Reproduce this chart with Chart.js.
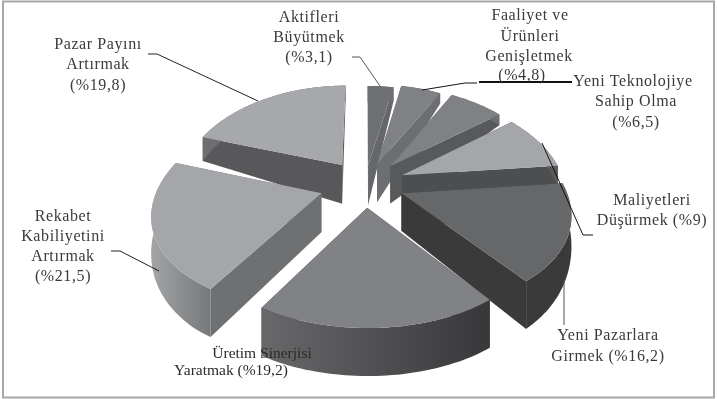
<!DOCTYPE html>
<html>
<head>
  <title>Pie</title>
  <script src="https://cdn.jsdelivr.net/npm/chart.js@4/dist/chart.umd.min.js"></script>
  <style>
    html, body { margin: 0; padding: 0; background: #fff; }
    canvas { display: block; }
  </style>
</head>
<body>
  <canvas id="pie" width="717" height="399"></canvas>

  <script>
    const categories = ['Aktifleri Büyütmek', 'Faaliyet ve Ürünleri Genişletmek', 'Yeni Teknolojiye Sahip Olma',
      'Maliyetleri Düşürmek', 'Yeni Pazarlara Girmek', 'Üretim Sinerjisi Yaratmak', 'Rekabet Kabiliyetini Artırmak',
      'Pazar Payını Artırmak'];
    const shares = [3.1, 4.8, 6.5, 9, 16.2, 19.2, 21.5, 19.8];

    // slice styling, same order as the categories
    const faceColors = ['#6f7073', '#808184', '#808184', '#a5a6a9', '#666769', '#808285', '#a5a6a9', '#a7a8ab'];
    const cutColors = ['#66676a', '#6d6e71', '#58595b', '#4d4e50', '#3a3a3b', '#3f3f40', '#6f7072', '#58585a'];
    const rimLeft = ['#6f7073', '#6d6e71', '#6d6e71', '#58595b', '#3a3a3b', '#68686a', '#a3a4a6', '#6d6e71'];
    const rimRight = ['#6f7073', '#6d6e71', '#6d6e71', '#58595b', '#3a3a3b', '#38383a', '#77787a', '#6d6e71'];
    const explode = [0.2, 0.23, 0.25, 0.25, 0.24, 0.24, 0.28, 0.25];

    // projection of the tilted disc onto the canvas
    const view = { cx: 365, cy: 184, focalX: 895, depthX: 5.5, focalY: 675, depthY: 7.05 };

    // wall height shrinks towards the back edge, more quickly on the right
    function rimHeight(x, y) {
      const t = Math.min(1, Math.max(0, (y + 0.9) / 0.9));
      const back = 40 - (x > 0 ? 16 : 8) * Math.abs(x) - 23 * Math.max(0, y - 0.2);
      return 48 + (back - 48) * t;
    }

    function project(angle, radius, shift, mid) {
      const x = radius * Math.cos(angle) + shift * Math.cos(mid);
      const y = -(radius * Math.sin(angle) + shift * Math.sin(mid));
      return {
        x: view.cx + view.focalX * x / (view.depthX + y),
        y: view.cy - view.focalY * y / (view.depthY + y),
        h: rimHeight(x, y)
      };
    }

    function polygon(ctx, pts, fill) {
      ctx.beginPath();
      pts.forEach((p, i) => (i ? ctx.lineTo(p.x, p.y) : ctx.moveTo(p.x, p.y)));
      ctx.closePath();
      ctx.fillStyle = fill;
      ctx.fill();
    }

    function dropped(pts) { return pts.map(p => ({ x: p.x, y: p.y + p.h })); }

    function drawSlice(ctx, arc, i) {
      const start = arc.startAngle, end = arc.endAngle, mid = (start + end) / 2, shift = explode[i];
      const apex = project(0, 0, shift, mid);
      const edge = [];
      const steps = Math.ceil((end - start) * 40);
      for (let s = 0; s <= steps; s++) edge.push(project(start + (end - start) * s / steps, 1, shift, mid));
      const first = edge[0], last = edge[edge.length - 1];

      polygon(ctx, [apex, first, ...dropped([first, apex])], cutColors[i]);
      polygon(ctx, [apex, last, ...dropped([last, apex])], cutColors[i]);

      const xs = edge.map(p => p.x);
      const grad = ctx.createLinearGradient(Math.min(...xs), 0, Math.max(...xs), 0);
      grad.addColorStop(0, rimLeft[i]);
      grad.addColorStop(1, rimRight[i]);
      polygon(ctx, [...edge, ...dropped(edge).reverse()], grad);

      polygon(ctx, [apex, ...edge], arc.options.backgroundColor);
    }

    const tiltedPie = {
      id: 'tiltedPie',
      beforeDatasetDraw(chart, args) {
        const ctx = chart.ctx;
        const arcs = args.meta.data;
        // paint from the back of the disc to the front
        const order = arcs.map((arc, i) => i).sort((a, b) =>
          Math.sin((arcs[a].startAngle + arcs[a].endAngle) / 2) - Math.sin((arcs[b].startAngle + arcs[b].endAngle) / 2));
        order.forEach(i => drawSlice(ctx, arcs[i], i));
        return false;
      }
    };

    // text and leader lines
    const labelRows = [
      ['Aktifleri', 309, 22], ['Büyütmek', 309, 42], ['(%3,1)', 309, 62],
      ['Faaliyet ve', 530, 20], ['Ürünleri', 530, 41], ['Genişletmek', 529, 61], ['(%4,8)', 522, 80],
      ['Yeni Teknolojiye', 633, 86], ['Sahip Olma', 636, 106], ['(%6,5)', 636, 127],
      ['Pazar Payını', 98, 49], ['Artırmak', 98, 69], ['(%19,8)', 98, 90],
      ['Rekabet', 63, 221], ['Kabiliyetini', 63, 241], ['Artırmak', 63, 261], ['(%21,5)', 63, 281],
      ['Maliyetleri', 652, 205], ['Düşürmek (%9)', 652, 225],
      ['Yeni Pazarlara', 608, 340], ['Girmek (%16,2)', 608, 361]
    ];
    const smallRows = [['Üretim Sinerjisi', 262, 358], ['Yaratmak (%19,2)', 231, 375]];
    const leaders = [
      { color: '#222', width: 1, pts: [[148, 54], [157, 54], [258, 101]] },
      { color: '#555', width: 1, pts: [[352, 57], [360, 57], [380, 86]] },
      { color: '#111', width: 1, pts: [[422, 90], [465, 83], [477, 83]] },
      { color: '#111', width: 2, pts: [[479, 82], [572, 82]] },
      { color: '#111', width: 1, pts: [[542, 143], [583, 235], [593, 235]] },
      { color: '#555', width: 1, pts: [[564, 280], [564, 325]] },
      { color: '#222', width: 1, pts: [[111, 251], [120, 251], [159, 271]] }
    ];

    const annotations = {
      id: 'annotations',
      afterDraw(chart) {
        const ctx = chart.ctx;
        ctx.save();
        ctx.strokeStyle = '#a8a8a8';
        ctx.lineWidth = 2;
        ctx.strokeRect(3, 1.5, 711, 396);
        leaders.forEach(l => {
          ctx.beginPath();
          l.pts.forEach((p, i) => (i ? ctx.lineTo(p[0], p[1]) : ctx.moveTo(p[0], p[1])));
          ctx.strokeStyle = l.color;
          ctx.lineWidth = l.width;
          ctx.stroke();
        });
        ctx.textAlign = 'center';
        ctx.font = '16px "Liberation Serif"';
        ctx.letterSpacing = '0.6px';
        ctx.fillStyle = '#3a3a3a';
        labelRows.forEach(r => ctx.fillText(r[0], r[1], r[2]));
        ctx.font = '15.5px "Liberation Serif"';
        ctx.letterSpacing = '0px';
        ctx.fillStyle = '#2a2a2a';
        smallRows.forEach(r => ctx.fillText(r[0], r[1], r[2]));
        ctx.restore();
      }
    };

    new Chart(document.getElementById('pie').getContext('2d'), {
      type: 'pie',
      data: {
        labels: categories,
        datasets: [{ data: shares, backgroundColor: faceColors, borderWidth: 0 }]
      },
      options: {
        responsive: false,
        animation: false,
        events: [],
        plugins: { legend: { display: false }, tooltip: { enabled: false } }
      },
      plugins: [tiltedPie, annotations]
    });
  </script>
</body>
</html>
